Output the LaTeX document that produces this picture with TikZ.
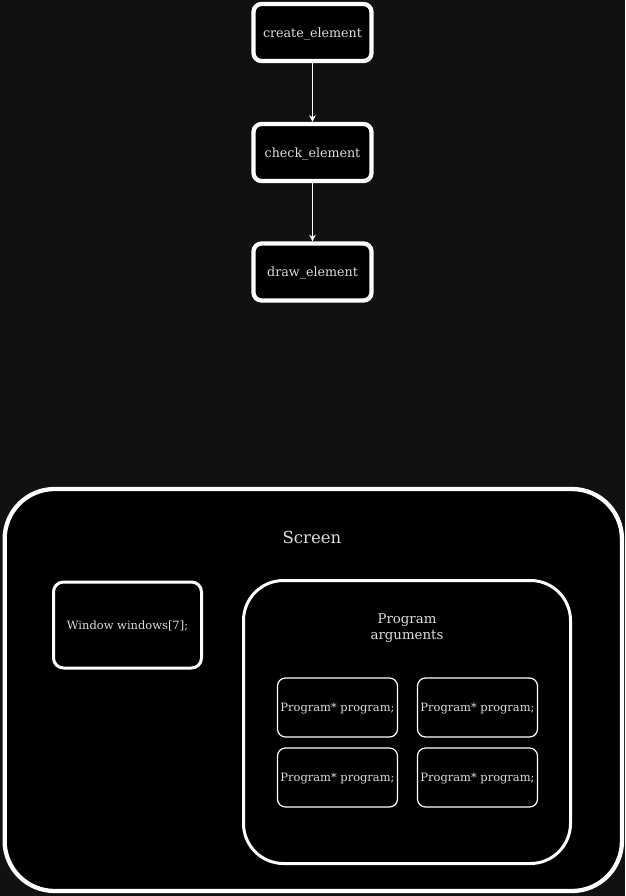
\documentclass[tikz,border=0pt]{standalone}
\usepackage{fontspec}
\setmainfont{DejaVu Serif}
\usetikzlibrary{arrows.meta}
\definecolor{pagebg}{HTML}{111111}
\definecolor{txt}{HTML}{DDDDDD}
\begin{document}
\begin{tikzpicture}[x=0.75pt,y=-0.75pt,
  stepbox/.style={draw=white, fill=black, line width=3.2pt, rounded corners=6pt,
    minimum width=88.5pt, minimum height=42.75pt, inner sep=0pt,
    text height=0.68em, text depth=0pt,
    text=txt, font=\fontsize{9.5pt}{12pt}\selectfont},
  flow/.style={draw=white, line width=0.8pt, -{Stealth[length=5pt,width=5pt]}},
  groupbox/.style={draw=white, fill=black, inner sep=0pt},
  slotbox/.style={draw=white, fill=black, line width=0.9pt, rounded corners=6pt,
    minimum width=90pt, minimum height=44.25pt, inner sep=0pt,
    text height=0.66em, text depth=0pt,
    text=txt, font=\fontsize{8.6pt}{10pt}\selectfont},
  lbl/.style={text=txt, inner sep=0pt}]
  % page background
  \fill[pagebg] (0,0) rectangle (625,896);
  \useasboundingbox (0,0) rectangle (625,896);

  % call chain
  \node[stepbox] (create) at (312.5,32.5) {create\_element};
  \node[stepbox] (check) at (312.5,152.5) {check\_element};
  \node[stepbox] (drawel) at (312.5,272) {draw\_element};
  \draw[flow] (create) -- (check);
  \draw[flow] (check) -- (drawel);

  % screen layout
  \node[groupbox, line width=3.2pt, rounded corners=37.5pt,
    minimum width=463pt, minimum height=301.5pt] (screen) at (313.3,690) {};
  \node[lbl, font=\fontsize{12.4pt}{15pt}\selectfont] (screenlbl) at (312,537) {Screen};

  \node[groupbox, line width=2.25pt, rounded corners=7.5pt,
    minimum width=111pt, minimum height=64.5pt, text=txt,
    text height=0.66em, text depth=0pt,
    font=\fontsize{8.6pt}{11pt}\selectfont] (windows) at (127.5,625) {Window windows[7];};

  \node[groupbox, line width=2.25pt, rounded corners=30pt,
    minimum width=245.25pt, minimum height=212.25pt] (program) at (407,722) {};
  \node[lbl, align=center, font=\fontsize{10pt}{11.5pt}\selectfont] (programlbl) at (407,628) {Program\\arguments};

  \node[slotbox] (p1) at (337.5,707.5) {Program* program;};
  \node[slotbox] (p2) at (477.5,707.5) {Program* program;};
  \node[slotbox] (p3) at (337.5,777.5) {Program* program;};
  \node[slotbox] (p4) at (477.5,777.5) {Program* program;};
\end{tikzpicture}
\end{document}
